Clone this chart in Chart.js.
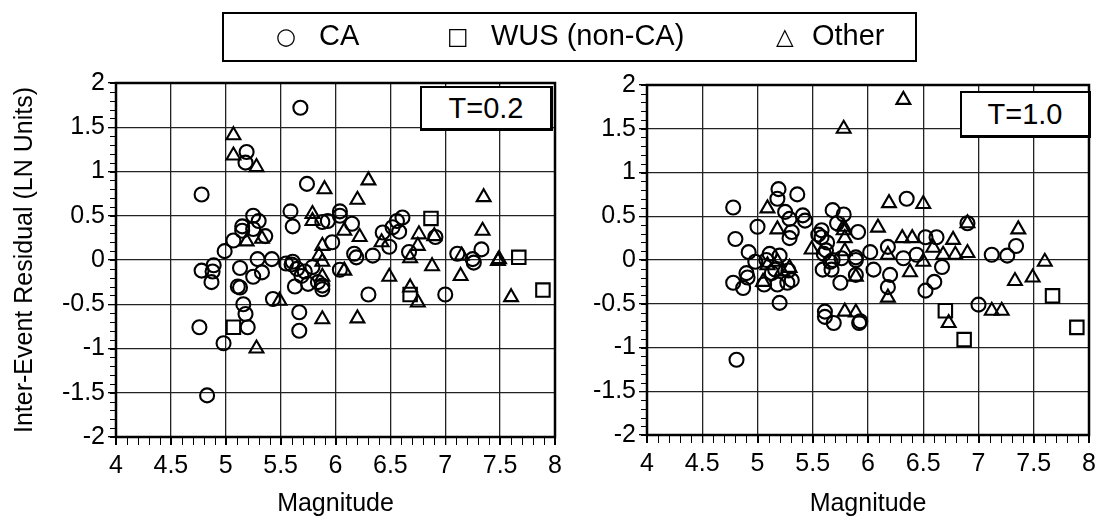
<!DOCTYPE html>
<html>
<head>
<meta charset="utf-8">
<script src="https://cdn.jsdelivr.net/npm/chart.js@4.4.1/dist/chart.umd.min.js"></script>
<style>
body { margin: 0; background: #fff; font-family: "Liberation Sans", Arial, sans-serif; }
#wrap { position: relative; width: 1101px; height: 521px; overflow: hidden; }
.cv { position: absolute; top: 0; }
#legend { position: absolute; left: 222px; top: 12px; width: 691px; height: 46px; border: 2px solid #000; }
.lg { position: absolute; top: 5px; font-size: 29px; color: #000; white-space: nowrap; }
.sym { font-family: "DejaVu Sans", sans-serif; font-size: 23px; position: absolute; top: 9px; }
.tbox { position: absolute; border: 2px solid #000; border-right-width: 3px; border-bottom-width: 3px; background: #fff; font-size: 29px; text-align: center; }
</style>
</head>
<body>
<div id="wrap">
  <canvas id="leftChart" class="cv" width="570" height="521" style="left:0px"></canvas>
  <canvas id="rightChart" class="cv" width="541" height="521" style="left:560px"></canvas>
  <div id="legend">
    <span class="sym" style="left:52px">○</span><span class="lg" style="left:95px">CA</span>
    <span class="sym" style="left:223px">□</span><span class="lg" style="left:267px">WUS (non-CA)</span>
    <span class="sym" style="left:552px">△</span><span class="lg" style="left:588px">Other</span>
  </div>
  <div class="tbox" style="left:420px; top:86px; width:128px; height:40px; line-height:40px;">T=0.2</div>
  <div class="tbox" style="left:960px; top:91px; width:126px; height:42px; line-height:42px;">T=1.0</div>
</div>
<script>
// T=0.2 panel: [magnitude, residual]
const caShort = [[4.78,0.74],[4.76,-0.76],[4.83,-1.53],[4.98,-0.94],[5.2,-0.76],[5.18,-0.61],[5.16,-0.5],[5.13,-0.31],[5.11,-0.3],
  [5.43,-0.44],[5.67,-0.59],[5.67,-0.8],[4.78,-0.12],[4.88,-0.13],[4.89,-0.06],[4.87,-0.25],[5.13,-0.09],[5.25,-0.19],[5.33,-0.14],
  [5.29,0.01],[5.42,0.01],[5.61,-0.02],[5.63,-0.3],[5.69,-0.18],[5.79,-0.08],[5.75,-0.27],[5.88,-0.29],[5.88,-0.33],[5.84,-0.25],
  [5.19,1.22],[5.18,1.1],[5.74,0.86],[5.68,1.72],[5.59,0.55],[5.61,0.38],[5.88,0.43],[5.93,0.44],[6.04,0.55],[5.97,0.2],[5.25,0.5],
  [5.3,0.44],[5.15,0.38],[5.15,0.33],[5.36,0.27],[5.07,0.22],[4.99,0.1],[5.25,0.35],[6.04,0.5],[7.33,0.12],[6.61,0.48],[6.56,0.44],
  [6.58,0.32],[6.52,0.37],[6.43,0.31],[6.91,0.26],[6.15,0.41],[6.49,0.15],[6.67,0.09],[7.11,0.07],[7.25,0.01],[6.17,0.07],[6.19,0.03],
  [6.34,0.05],[6.04,-0.11],[6.3,-0.39],[7.0,-0.39],[7.26,-0.03],[5.6,-0.05],[5.65,-0.1],[5.72,-0.13],[5.55,-0.04]];
const wusShort = [[5.07,-0.76],[6.87,0.47],[7.67,0.03],[6.68,-0.39],[7.89,-0.34]];
const otherShort = [[5.49,-0.46],[5.88,-0.67],[5.28,-1.0],[5.88,-0.02],[5.88,-0.19],[5.07,1.41],[5.07,1.18],[5.28,1.05],[5.9,0.8],
  [5.79,0.52],[5.79,0.44],[5.88,0.16],[5.19,0.21],[5.33,0.24],[6.3,0.9],[6.2,0.68],[7.35,0.71],[7.34,0.33],[7.49,0.01],[6.76,0.29],
  [6.9,0.27],[6.08,0.33],[6.22,0.26],[6.42,0.2],[6.75,0.16],[7.15,0.05],[6.68,0.02],[6.08,-0.12],[6.49,-0.19],[6.2,-0.66],[6.68,-0.31],
  [6.75,-0.48],[6.88,-0.07],[7.14,-0.18],[7.48,-0.01],[7.6,-0.42],[5.85,0.05]];

// T=1.0 panel
const caLong = [[5.19,0.81],[5.18,0.7],[5.36,0.75],[4.78,0.6],[5.25,0.55],[5.29,0.47],[5.41,0.51],[5.43,0.45],[5.0,0.38],[5.31,0.32],
  [5.29,0.25],[4.8,0.24],[4.92,0.09],[5.11,0.07],[5.68,0.57],[5.78,0.52],[5.72,0.42],[5.91,0.32],[5.58,0.34],[5.58,0.26],[5.63,0.2],
  [5.6,0.07],[5.68,0.0],[5.89,0.03],[5.89,0.0],[6.35,0.7],[6.9,0.42],[7.34,0.16],[7.12,0.06],[7.26,0.05],[6.52,0.26],[6.62,0.26],
  [6.02,0.09],[6.18,0.15],[6.32,0.02],[6.44,0.06],[6.67,-0.08],[6.05,-0.11],[6.2,-0.17],[6.18,-0.31],[6.6,-0.25],[6.52,-0.35],
  [7.0,-0.51],[5.93,-0.7],[4.81,-1.14],[5.2,-0.49],[5.61,-0.59],[5.61,-0.65],[5.69,-0.72],[5.92,-0.72],[4.78,-0.26],[4.87,-0.32],
  [4.9,-0.15],[4.91,-0.2],[4.98,-0.02],[5.06,-0.28],[5.13,-0.15],[5.18,-0.28],[5.27,-0.26],[5.31,-0.23],[5.16,-0.11],[5.59,-0.11],
  [5.67,-0.11],[5.75,-0.26],[5.89,-0.17],[5.08,0.0],[5.2,0.05],[5.28,-0.12],[5.62,0.11],[5.66,-0.02],[5.76,0.02],[5.55,0.29]];
const wusLong = [[7.67,-0.41],[7.89,-0.77],[6.7,-0.58],[6.87,-0.91]];
const otherLong = [[5.78,1.5],[6.32,1.83],[5.09,0.59],[5.18,0.35],[5.49,0.12],[5.78,0.38],[5.78,0.34],[6.19,0.65],[6.5,0.64],[6.9,0.42],
  [7.36,0.35],[7.6,-0.02],[6.09,0.37],[6.31,0.25],[6.4,0.25],[6.77,0.23],[6.68,0.06],[6.79,0.06],[6.9,0.08],[6.59,0.14],[6.18,0.06],
  [6.5,-0.02],[6.38,-0.14],[6.18,-0.43],[7.33,-0.24],[7.49,-0.2],[7.12,-0.58],[7.21,-0.58],[6.73,-0.72],[5.79,-0.59],[5.89,-0.6],
  [5.09,-0.06],[5.18,-0.02],[5.29,-0.09],[5.89,-0.19],[5.79,0.25],[5.79,0.1],[5.22,-0.13],[5.05,-0.25]];

const xMin = 4, xMax = 8, yMin = -2, yMax = 2;
const FONT = "'Liberation Sans', Arial, sans-serif";

function toPoints(arr) {
    return arr.map(p => ({ x: p[0], y: p[1] }));
}

function makeSet(label, arr, style, radius) {
    return {
        label: label,
        data: toPoints(arr),
        pointStyle: style,
        pointRadius: radius,
        pointHoverRadius: radius,
        backgroundColor: "rgba(0,0,0,0)",
        borderColor: "#000",
        pointBorderWidth: 2.1,
        showLine: false
    };
}

// minor ticks every 0.1 plus the heavy frame
const frameTicks = {
    id: "frameTicks",
    afterDraw(chart) {
        const { ctx, chartArea: a, scales: { x, y } } = chart;
        ctx.save();
        ctx.strokeStyle = "#000";
        ctx.lineWidth = 1;
        ctx.beginPath();
        for (let i = 0; i <= 40; i++) {
            let py = Math.round(y.getPixelForValue(yMin + i * 0.1)) + 0.5;
            ctx.moveTo(a.left - 6, py);
            ctx.lineTo(a.left, py);
            let px = Math.round(x.getPixelForValue(xMin + i * 0.1)) + 0.5;
            ctx.moveTo(px, a.bottom);
            ctx.lineTo(px, a.bottom + 8);
        }
        ctx.stroke();
        ctx.lineWidth = 2.5;
        ctx.strokeRect(a.left, a.top, a.width, a.height);
        ctx.restore();
    }
};

function makeChart(id, ca, wus, other, yWidth, top, xHeight, right, showTitle) {
    let canvas = document.getElementById(id);
    let ctx = canvas.getContext("2d");
    return new Chart(ctx, {
        type: "scatter",
        data: {
            datasets: [
                makeSet("CA", ca, "circle", 7),
                makeSet("WUS (non-CA)", wus, "rect", 9.5),
                makeSet("Other", other, "triangle", 8)
            ]
        },
        options: {
            responsive: false,
            animation: false,
            layout: { padding: { top: top, right: 0, left: 0, bottom: 0 } },
            plugins: { legend: { display: false }, tooltip: { enabled: false } },
            scales: {
                x: {
                    type: "linear", min: xMin, max: xMax,
                    ticks: { stepSize: 0.5, color: "#000", padding: 6, font: { family: FONT, size: 25 }, maxRotation: 0,
                             callback: v => String(v) },
                    grid: { color: "#222", lineWidth: 1.3, tickLength: 8, tickColor: "#000" },
                    border: { color: "#000", width: 2 },
                    title: { display: true, text: "Magnitude", color: "#000", font: { family: FONT, size: 25 }, padding: { top: 0, bottom: 2 } },
                    afterFit: s => { s.height = xHeight; s.paddingRight = 0; }
                },
                y: {
                    type: "linear", min: yMin, max: yMax,
                    ticks: { stepSize: 0.5, color: "#000", padding: 3, font: { family: FONT, size: 25 },
                             callback: v => String(v) },
                    grid: { color: "#222", lineWidth: 1.3, tickLength: 8, tickColor: "#000" },
                    border: { color: "#000", width: 2 },
                    title: { display: showTitle, text: "Inter-Event Residual (LN Units)", color: "#000", font: { family: FONT, size: 25 }, padding: { top: 10, bottom: 0 } },
                    afterFit: s => { s.width = yWidth; }
                }
            }
        },
        plugins: [frameTicks, {
            id: "fixRight",
            beforeLayout(chart) {
                chart.options.layout.padding.right = canvas.width - right;
            }
        }]
    });
}

makeChart("leftChart", caShort, wusShort, otherShort, 116, 83, 84, 555, true);
makeChart("rightChart", caLong, wusLong, otherLong, 87, 85, 86, 1089 - 560, false);
</script>
</body>
</html>
